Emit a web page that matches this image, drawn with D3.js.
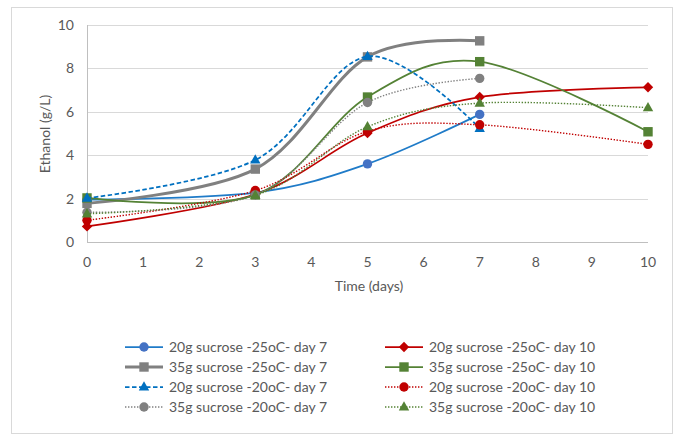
<!DOCTYPE html>
<html>
<head>
<meta charset="utf-8">
<script src="https://cdn.jsdelivr.net/npm/d3@7"></script>
<style>
  body { margin: 0; background: #fff; }
  text { font-family: Lato, "Liberation Sans", sans-serif; fill: #595959; }
</style>
</head>
<body>
<svg id="chart" width="678" height="435"></svg>
<script>
// values
const days7 = [0, 3, 5, 7];
const days10 = [0, 3, 5, 7, 10];

const s20g25d7 = [1.95, 2.28, 3.6, 5.88];
const s20g25d10 = [0.72, 2.2, 5.02, 6.68, 7.13];
const s35g25d7 = [1.78, 3.36, 8.53, 9.27];
const s35g25d10 = [2.03, 2.17, 6.68, 8.31, 5.08];
const s20g20d7 = [2.02, 3.78, 8.55, 5.24];
const s20g20d10 = [1.0, 2.37, 5.1, 5.4, 4.5];
const s35g20d7 = [1.37, 2.17, 6.43, 7.54];
const s35g20d10 = [1.3, 2.15, 5.31, 6.4, 6.19];

const xTicks = [0, 1, 2, 3, 4, 5, 6, 7, 8, 9, 10];
const yTicks = [0, 2, 4, 6, 8, 10];

// series in the same order Excel drew them (legend is row-wise)
const series = [
  { name: "20g sucrose -25oC- day 7", x: days7, y: s20g25d7, line: "#1F7BC8", fill: "#4472C4", width: 1.75, dash: null, marker: "circle" },
  { name: "20g sucrose -25oC- day 10", x: days10, y: s20g25d10, line: "#C00000", fill: "#C00000", width: 1.75, dash: null, marker: "diamond" },
  { name: "35g sucrose -25oC- day 7", x: days7, y: s35g25d7, line: "#808080", fill: "#808080", width: 3, dash: null, marker: "square" },
  { name: "35g sucrose -25oC- day 10", x: days10, y: s35g25d10, line: "#548235", fill: "#548235", width: 1.75, dash: null, marker: "square" },
  { name: "20g sucrose -20oC- day 7", x: days7, y: s20g20d7, line: "#0070C0", fill: "#0070C0", width: 1.75, dash: "4.5,2.5", marker: "triangle" },
  { name: "20g sucrose -20oC- day 10", x: days10, y: s20g20d10, line: "#C00000", fill: "#C00000", width: 1.4, dash: "1.4,1.6", marker: "circle" },
  { name: "35g sucrose -20oC- day 7", x: days7, y: s35g20d7, line: "#808080", fill: "#808080", width: 1.4, dash: "1.4,1.6", marker: "circle" },
  { name: "35g sucrose -20oC- day 10", x: days10, y: s35g20d10, line: "#548235", fill: "#548235", width: 1.4, dash: "1.4,1.6", marker: "triangle" }
];

const svg = d3.select("#chart");

// outer chart border
svg.append("rect")
  .attr("x", 11.5).attr("y", 7.5)
  .attr("width", 661).attr("height", 426)
  .attr("fill", "#fff")
  .attr("stroke", "#D9D9D9");

const x = d3.scaleLinear().domain([0, 10]).range([87, 648]);
const y = d3.scaleLinear().domain([0, 10]).range([242, 25]);

// gridlines
svg.append("g")
  .selectAll("line")
  .data(yTicks)
  .enter()
  .append("line")
  .attr("x1", x(0)).attr("x2", x(10))
  .attr("y1", d => Math.round(y(d)) + 0.5)
  .attr("y2", d => Math.round(y(d)) + 0.5)
  .attr("stroke", "#D9D9D9")
  .attr("stroke-width", 1);

// y axis line
svg.append("line")
  .attr("x1", x(0) + 0.5).attr("x2", x(0) + 0.5)
  .attr("y1", y(10)).attr("y2", y(0))
  .attr("stroke", "#BFBFBF");

// x axis line
svg.append("line")
  .attr("x1", x(0)).attr("x2", x(10))
  .attr("y1", Math.round(y(0)) + 0.5).attr("y2", Math.round(y(0)) + 0.5)
  .attr("stroke", "#BFBFBF");

// tick labels
svg.append("g")
  .selectAll("text")
  .data(yTicks)
  .enter()
  .append("text")
  .attr("x", 74)
  .attr("y", d => y(d))
  .attr("dy", "0.35em")
  .attr("text-anchor", "end")
  .attr("font-size", "14px")
  .text(d => d);

svg.append("g")
  .selectAll("text")
  .data(xTicks)
  .enter()
  .append("text")
  .attr("x", d => x(d))
  .attr("y", 262)
  .attr("dy", "0.35em")
  .attr("text-anchor", "middle")
  .attr("font-size", "14px")
  .text(d => d);

// axis titles
svg.append("text")
  .attr("transform", "translate(45,134) rotate(-90)")
  .attr("text-anchor", "middle")
  .attr("dy", "0.35em")
  .attr("font-size", "14px")
  .text("Ethanol (g/L)");

svg.append("text")
  .attr("x", 369)
  .attr("y", 286)
  .attr("dy", "0.35em")
  .attr("text-anchor", "middle")
  .attr("font-size", "14px")
  .text("Time (days)");

// Excel-like smoothing
const line = d3.line()
  .x(d => x(d[0]))
  .y(d => y(d[1]))
  .curve(d3.curveCardinal.tension(0));

function drawMarker(g, type, cx, cy, fill) {
  if (type === "circle") {
    g.append("circle").attr("cx", cx).attr("cy", cy).attr("r", 4.7).attr("fill", fill);
  } else if (type === "square") {
    g.append("rect").attr("x", cx - 4.7).attr("y", cy - 4.7).attr("width", 9.4).attr("height", 9.4).attr("fill", fill);
  } else if (type === "diamond") {
    g.append("path").attr("d", `M${cx},${cy - 5.2}L${cx + 5.2},${cy}L${cx},${cy + 5.2}L${cx - 5.2},${cy}Z`).attr("fill", fill);
  } else if (type === "triangle") {
    g.append("path").attr("d", `M${cx},${cy - 5.8}L${cx + 5.2},${cy + 3.6}L${cx - 5.2},${cy + 3.6}Z`).attr("fill", fill);
  }
}

const plot = svg.append("g");

series.forEach(s => {
  const pts = s.x.map((d, i) => [d, s.y[i]]);
  const g = plot.append("g");
  g.append("path")
    .attr("d", line(pts))
    .attr("fill", "none")
    .attr("stroke", s.line)
    .attr("stroke-width", s.width)
    .attr("stroke-dasharray", s.dash);
  pts.forEach(p => drawMarker(g, s.marker, x(p[0]), y(p[1]), s.fill));
});

// legend, filled row by row in two columns
const legend = svg.append("g");
series.forEach((s, i) => {
  const col = i % 2;
  const row = Math.floor(i / 2);
  const lx = col === 0 ? 125 : 385;
  const ly = 347 + row * 20;
  const g = legend.append("g");
  g.append("line")
    .attr("x1", lx).attr("x2", lx + 38)
    .attr("y1", ly).attr("y2", ly)
    .attr("stroke", s.line)
    .attr("stroke-width", s.width)
    .attr("stroke-dasharray", s.dash);
  drawMarker(g, s.marker, lx + 19, ly, s.fill);
  g.append("text")
    .attr("x", lx + 44)
    .attr("y", ly)
    .attr("dy", "0.35em")
    .attr("font-size", "14px")
    .text(s.name);
});
</script>
</body>
</html>
